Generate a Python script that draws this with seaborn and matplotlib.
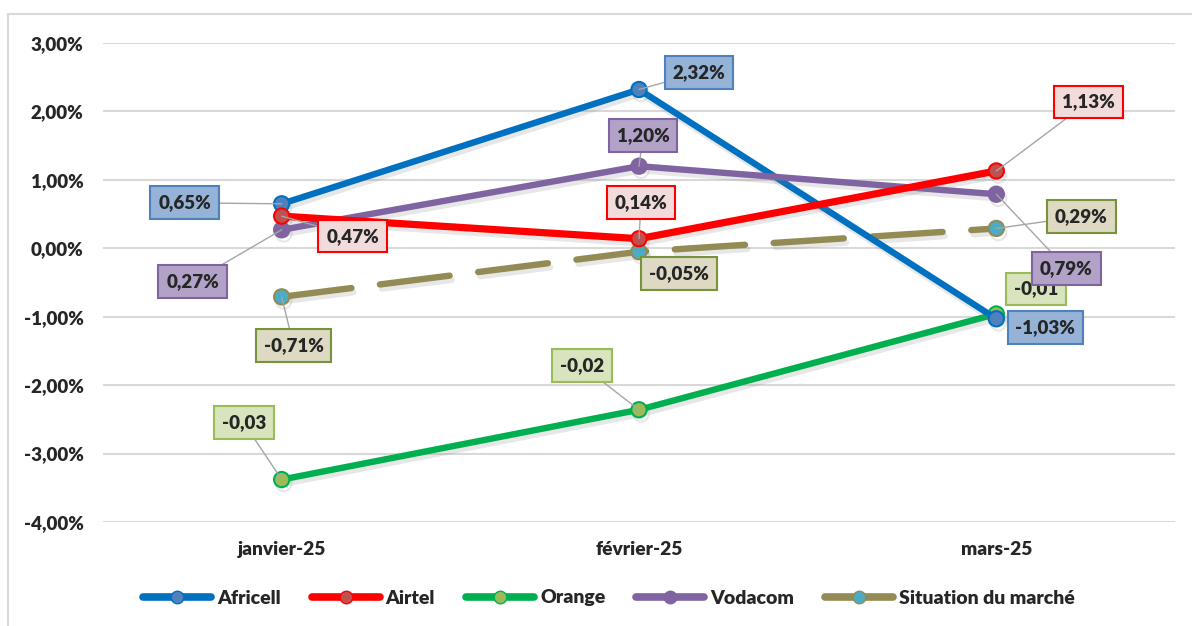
import matplotlib
matplotlib.use("Agg")
import matplotlib.pyplot as plt
import matplotlib.patheffects as pe
from matplotlib.lines import Line2D
from matplotlib.patches import Rectangle
import seaborn as sns

# ---------------- data ----------------
months = ["janvier-25", "février-25", "mars-25"]
series_names = ["Africell", "Airtel", "Orange", "Vodacom", "Situation du marché"]
africell = [0.65, 2.32, -1.03]
airtel = [0.47, 0.14, 1.13]
orange = [-3.38, -2.36, -0.96]
vodacom = [0.27, 1.20, 0.79]
marche = [-0.71, -0.05, 0.29]
orange_labels = ["-0,03", "-0,02", "-0,01"]
yticks = [3, 2, 1, 0, -1, -2, -3, -4]

sns.set_theme(style="white")
FAM = ["Lato", "DejaVu Sans"]
W = "heavy"
plt.rcParams["font.family"] = FAM
plt.rcParams["font.weight"] = W

fig = plt.figure(figsize=(11.92, 6.26), dpi=100)
ax = fig.add_axes([103 / 1192, 1 - 522 / 626, (1175 - 103) / 1192, (522 - 43) / 626])

def pct(v):
    return f"{v:.2f}%".replace(".", ",")

styles = {
    "Africell": dict(color="#0070C0", mfc="#4F81BD", lw=4.6, box_fc="#95B3D7", box_ec="#4F81BD"),
    "Airtel": dict(color="#FF0000", mfc="#C0504D", lw=5.2, box_fc="#F2DCDB", box_ec="#FF0000"),
    "Orange": dict(color="#00B050", mfc="#9BBB59", lw=4.6, box_fc="#D7E4BD", box_ec="#9BBB59"),
    "Vodacom": dict(color="#8064A2", mfc="#8064A2", lw=4.6, box_fc="#B3A2C7", box_ec="#8064A2"),
    "Situation du marché": dict(color="#948A54", mfc="#4BACC6", lw=4.6, box_fc="#DDD9C3", box_ec="#77933C"),
}
data = {
    "Africell": africell,
    "Airtel": airtel,
    "Orange": orange,
    "Vodacom": vodacom,
    "Situation du marché": marche,
}
labels = {
    "Africell": [pct(v) for v in africell],
    "Airtel": [pct(v) for v in airtel],
    "Orange": orange_labels,
    "Vodacom": [pct(v) for v in vodacom],
    "Situation du marché": [pct(v) for v in marche],
}
# label offsets in pixels (dx, dy up), and whether a leader line is drawn
offsets = {
    "Africell": [(-97, 1, True), (60, 17, True), (49, -9, False)],
    "Airtel": [(71, -20, True), (2, 36, True), (92, 69, True)],
    "Orange": [(-38, 57, True), (-57, 44, True), (40, 25, False)],
    "Vodacom": [(-89, -52, True), (4, 31, True), (70, -74, True)],
    "Situation du marché": [(12, -49, True), (40, -22, False), (85, 12, True)],
}

shadow = [pe.SimpleLineShadow(offset=(1.5, -3), shadow_color="#7F7F7F", alpha=0.18, rho=1), pe.Normal()]

draw_order = ["Situation du marché", "Orange", "Africell", "Vodacom", "Airtel"]
for name in draw_order:
    st = styles[name]
    ls = (0, (11, 4.5)) if name == "Situation du marché" else "-"
    sns.lineplot(x=months, y=data[name], ax=ax, color=st["color"], lw=st["lw"],
                 linestyle=ls, marker="o", markersize=11, markerfacecolor=st["mfc"],
                 markeredgecolor=st["color"], markeredgewidth=1.5, sort=False,
                 errorbar=None, legend=False, solid_capstyle="round",
                 dash_capstyle="round", path_effects=shadow, zorder=3)

for name in series_names:
    st = styles[name]
    for i, (v, lab, (dx, dy, lead)) in enumerate(zip(data[name], labels[name], offsets[name])):
        ap = dict(arrowstyle="-", color="#A6A6A6", lw=1.0, shrinkA=0, shrinkB=0) if lead else None
        ax.annotate(lab, xy=(i, v), xytext=(dx, dy), textcoords="offset pixels",
                    ha="center", va="center", fontsize=13.5, fontweight=W, color="#262626",
                    bbox=dict(boxstyle="square,pad=0.42", fc=st["box_fc"], ec=st["box_ec"], lw=1.5),
                    arrowprops=ap, zorder=5, annotation_clip=False)

ax.set_xlim(-0.5, 2.5)
ax.set_ylim(-4, 3)
ax.set_yticks(yticks)
ax.set_yticklabels([pct(v) for v in yticks], fontsize=13.5, fontweight=W, color="#262626")
ax.tick_params(axis="x", labelsize=13.8, colors="#262626", length=0, pad=14)
ax.tick_params(axis="y", length=0, pad=14)
for lbl in ax.get_xticklabels():
    lbl.set_fontweight(W)
ax.set_xlabel("")
ax.set_ylabel("")
ax.grid(axis="y", color="#D9D9D9", lw=1.5)
ax.grid(axis="x", visible=False)
for s in ax.spines.values():
    s.set_visible(False)

handles = []
for name in series_names:
    st = styles[name]
    handles.append(Line2D([0], [0], color=st["color"], lw=5.5, marker="o", markersize=9,
                          markerfacecolor=st["mfc"], markeredgecolor=st["color"],
                          solid_capstyle="round"))
fig.legend(handles, series_names, loc="center", bbox_to_anchor=(609 / 1192, 1 - 598 / 626),
           ncol=5, frameon=False, handlelength=3.5, handletextpad=0.3, columnspacing=1.6,
           prop=dict(family=FAM, weight=W, size=14))

fig.add_artist(Rectangle((8 / 1192, -0.05), 1.5, 0.05 + 1 - 14 / 626, transform=fig.transFigure,
                         fill=False, ec="#D9D9D9", lw=1.5))

fig.savefig("out.png", dpi=100)
